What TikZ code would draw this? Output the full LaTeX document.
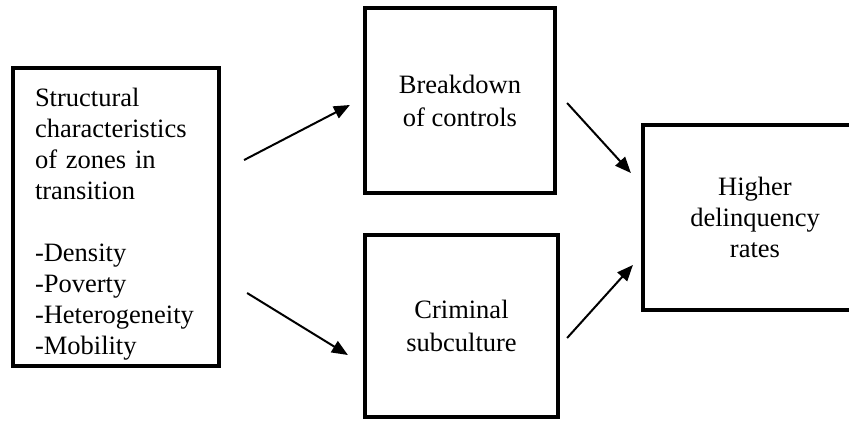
\documentclass[tikz,border=0pt]{standalone}
\usepackage{fontspec}
\setmainfont{Liberation Serif}
\usetikzlibrary{arrows.meta}

\begin{document}
\begin{tikzpicture}[x=1pt, y=-1pt,
  every node/.style = {shape=rectangle, draw, line width=4.2pt, align=center, inner sep=0pt,
    font=\fontsize{26.5}{31}\selectfont},
  arr/.style = {line width=2pt, -{Triangle[length=16pt,width=13pt]}}]
  \useasboundingbox (0,0) rectangle (849,421);
  \node (zones) at (116,217) [minimum width=206pt, minimum height=298pt, text width=162pt, align=left]
    {Structural\rule{0pt}{32pt}\\characteristics\\of zones in\\transition\\[31pt]-Density\\-Poverty\\-Heterogeneity\\-Mobility};
  \node (breakdown) at (460,100.5) [minimum width=190pt, minimum height=185pt,
    font=\fontsize{26.5}{33}\selectfont] {Breakdown\\of controls};
  \node (subculture) at (461.5,326) [minimum width=193pt, minimum height=182pt,
    font=\fontsize{26.5}{33}\selectfont] {Criminal\\subculture};
  \node (rates) at (755,217.5) [minimum width=224pt, minimum height=185pt] {Higher\\delinquency\\rates};
  \draw[arr] ([xshift=23pt,yshift=57pt]zones.east) -- ([xshift=-13pt,yshift=-4.5pt]breakdown.west);
  \draw[arr] ([xshift=26pt,yshift=-76pt]zones.east) -- ([xshift=-15pt,yshift=-29pt]subculture.west);
  \draw[arr] ([xshift=10pt,yshift=-2.5pt]breakdown.east) -- ([xshift=-10pt,yshift=44.5pt]rates.west);
  \draw[arr] ([xshift=7pt,yshift=-12pt]subculture.east) -- ([xshift=-8pt,yshift=-47.5pt]rates.west);
\end{tikzpicture}
\end{document}
